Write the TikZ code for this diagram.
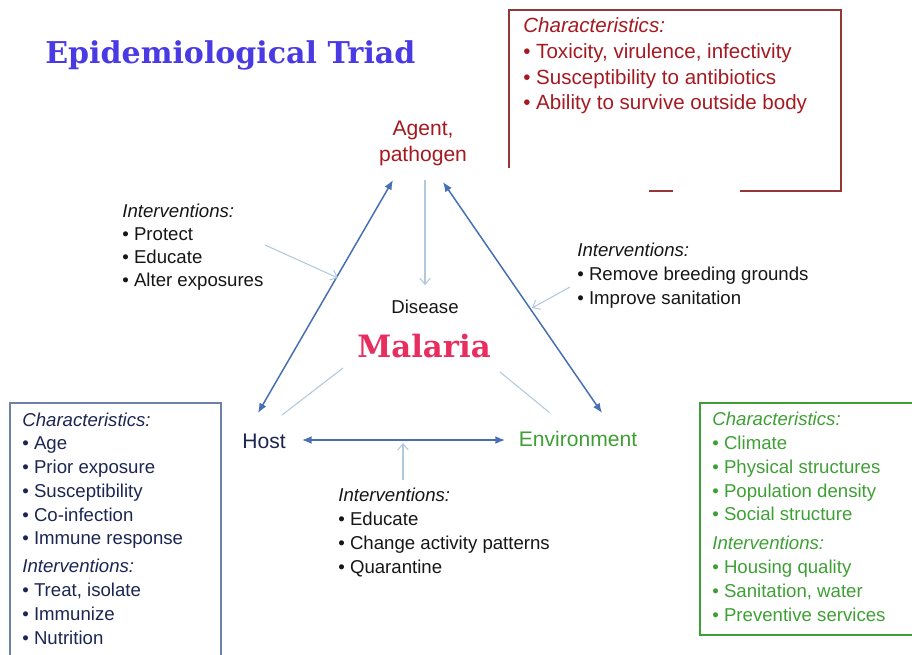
\documentclass[tikz,border=0pt]{standalone}
\usepackage{fontspec}
\setmainfont{Liberation Sans}
\newfontfamily\slabfont{DejaVu Serif}
\usepackage{xcolor}
\usetikzlibrary{arrows.meta,calc}
\definecolor{triad}{RGB}{74,58,228}
\definecolor{agentred}{RGB}{165,25,32}
\definecolor{agentframe}{RGB}{150,55,55}
\definecolor{edge}{RGB}{72,110,180}
\definecolor{soft}{RGB}{178,200,220}
\definecolor{malaria}{RGB}{232,45,95}
\definecolor{hostnavy}{RGB}{28,38,82}
\definecolor{hostframe}{RGB}{110,130,165}
\definecolor{envgreen}{RGB}{62,160,52}
\definecolor{ink}{RGB}{22,22,22}

\begin{document}
\begin{tikzpicture}[x=0.02cm, y=-0.02cm,
  every node/.style={inner sep=0pt, font=\fontsize{10.6}{13.5}\selectfont},
  txt/.style={anchor=base west, align=left},
  vertex/.style={anchor=base, align=center, font=\fontsize{12}{15.3}\selectfont},
  link/.style={{Latex[length=5.5pt,width=4.5pt]}-{Latex[length=5.5pt,width=4.5pt]}, line width=0.85pt, edge},
  hint/.style={-{Straight Barb[length=3.5pt,width=6pt]}, line width=0.6pt, soft},
  ray/.style={line width=0.6pt, soft}]
\useasboundingbox (0,0) rectangle (912,655);
% ---- title
\node[anchor=base west, triad, font=\slabfont\bfseries\fontsize{17.1}{20}\selectfont]
  (title) at (45,64) {Epidemiological Triad};
% ---- agent: characteristics box (frame partly broken)
% (multi-line nodes sit on the baseline of their last line)
\draw[agentframe, line width=0.8pt] (509,168) -- (509,10) -- (841,10) -- (841,191) -- (740,191);
\draw[agentframe, line width=0.8pt] (649,191) -- (673,191);
\node[txt, agentred, font=\fontsize{11.7}{14.7}\selectfont] (agentlist) at (523,110)
  {\textit{Characteristics:}\\
   \textbullet\ Toxicity, virulence, infectivity\\
   \textbullet\ Susceptibility to antibiotics\\
   \textbullet\ Ability to survive outside body};
% ---- the three corners and the centre
\node[vertex, agentred] (agent) at (423,162) {Agent,\\pathogen};
\node[vertex, hostnavy] (host) at (264,448) {Host};
\node[vertex, envgreen] (env) at (578,446) {Environment};
\node[anchor=base, ink] (disease) at (425,313) {Disease};
\node[anchor=base, malaria, font=\slabfont\bfseries\fontsize{17.5}{20}\selectfont]
  (malaria) at (424,357) {Malaria};
% ---- interventions on the sides
\node[txt, ink, font=\fontsize{10.6}{13}\selectfont] (hostint) at (122,286)
  {\textit{Interventions:}\\
   \textbullet\ Protect\\
   \textbullet\ Educate\\
   \textbullet\ Alter exposures};
\node[txt, ink] (envint) at (577,304)
  {\textit{Interventions:}\\
   \textbullet\ Remove breeding grounds\\
   \textbullet\ Improve sanitation};
\node[txt, ink] (linkint) at (338,573)
  {\textit{Interventions:}\\
   \textbullet\ Educate\\
   \textbullet\ Change activity patterns\\
   \textbullet\ Quarantine};
% ---- host box
\draw[hostframe, line width=0.8pt] (10,655) |- (221,403) -- (221,655);
\node[txt, hostnavy] (hostlist) at (22,644)
  {\textit{Characteristics:}\\
   \textbullet\ Age\\
   \textbullet\ Prior exposure\\
   \textbullet\ Susceptibility\\
   \textbullet\ Co-infection\\
   \textbullet\ Immune response\\[2.5pt]
   \textit{Interventions:}\\
   \textbullet\ Treat, isolate\\
   \textbullet\ Immunize\\
   \textbullet\ Nutrition};
% ---- environment box
\draw[envgreen, line width=0.8pt] (912,403) -| (700,635) -- (912,635);
\node[txt, envgreen] (envlist) at (712,621)
  {\textit{Characteristics:}\\
   \textbullet\ Climate\\
   \textbullet\ Physical structures\\
   \textbullet\ Population density\\
   \textbullet\ Social structure\\[3pt]
   \textit{Interventions:}\\
   \textbullet\ Housing quality\\
   \textbullet\ Sanitation, water\\
   \textbullet\ Preventive services};
% ---- triangle
\coordinate (aL) at (393,180);
\coordinate (aR) at (443,182);
\coordinate (hT) at (258,413);
\coordinate (hR) at (302,440);
\coordinate (eT) at (602,413);
\coordinate (eL) at (505,440);
\draw[link] (hT) -- (aL);
\draw[link] (eT) -- (aR);
\draw[link] (hR) -- (eL);
% ---- light pointers
\draw[hint] ($(agent.south)+(2,13)$) -- ($(disease.north)+(0,-14)$);
\coordinate (lTip) at (338,278);
\coordinate (rTip) at (532,308);
\coordinate (bTip) at (403,443);
\draw[hint] (265,245) -- (lTip);
\draw[hint] (570,287) -- (rTip);
\draw[hint] (403,480) -- (bTip);
\draw[ray] (282,415) -- (343,368);
\draw[ray] (500,372) -- (550,413);
\end{tikzpicture}
\end{document}
